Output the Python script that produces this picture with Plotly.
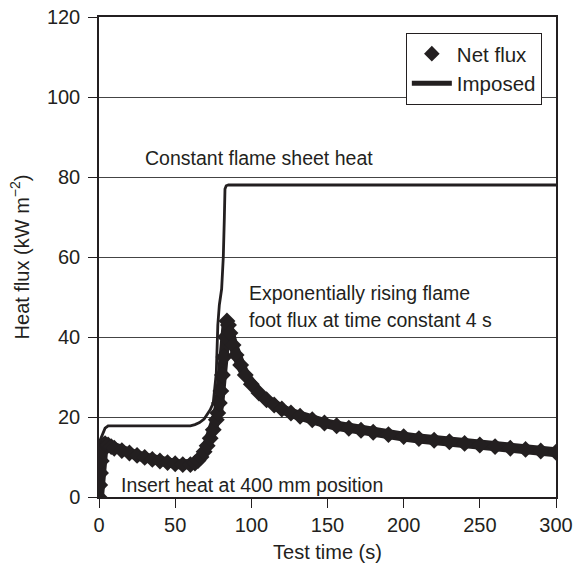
import plotly.graph_objects as go

# Net flux readings (time s, kW/m2)
net_t = [0, 0.5, 1, 1.5, 2, 3, 4, 6, 8, 10, 15, 20, 25, 30, 35, 40, 45, 50, 55, 60,
         63, 65, 67, 69, 71, 73, 75, 77, 78, 79, 80, 81, 82, 83, 84, 85, 86, 88, 90,
         93, 96, 100, 105, 110, 115, 120, 126, 132, 140, 148, 156, 164, 172, 180,
         190, 200, 210, 220, 230, 240, 250, 260, 270, 280, 290, 300]
net_q = [0, 3, 6, 9, 11.5, 13, 13.3, 13, 12.6, 12.2, 11.6, 11, 10.4, 9.9, 9.4, 9, 8.6,
         8.3, 8.1, 8.1, 8.5, 9.1, 10, 11.3, 12.8, 14.7, 16.8, 19.3, 21, 23.5, 26.5,
         30.5, 35, 40, 44, 43, 41, 38, 35.5, 33, 30.5, 28.2, 26, 24.3, 23, 22, 21,
         20.2, 19.3, 18.5, 17.8, 17.2, 16.7, 16.2, 15.6, 15.1, 14.6, 14.2, 13.8,
         13.4, 13, 12.6, 12.2, 11.9, 11.5, 11.2]

# Imposed heat flux readings
imp_t = [0, 2, 4, 6, 60, 63, 66, 69, 71, 73, 75, 76, 77, 78, 79, 80.5, 81.6, 82.3,
         82.7, 83.5, 85, 300]
imp_q = [13.5, 15.5, 17.2, 17.8, 17.8, 18.1, 18.6, 19.5, 20.5, 21.8, 23.5, 27, 31,
         43, 48, 52, 60, 70, 77, 77.8, 78, 78]

x_ticks = [0, 50, 100, 150, 200, 250, 300]
y_ticks = [0, 20, 40, 60, 80, 100, 120]

INK = "#231f20"
FONT = "Liberation Sans, Arial, sans-serif"

fig = go.Figure()
fig.add_trace(go.Scatter(x=net_t, y=net_q, mode="lines",
                         line=dict(color=INK, width=10), showlegend=False,
                         hoverinfo="skip"))
fig.add_trace(go.Scatter(x=net_t, y=net_q, mode="markers", name="Net flux",
                         marker=dict(symbol="diamond", size=13, color=INK),
                         legendgroup="a"))
fig.add_trace(go.Scatter(x=imp_t, y=imp_q, mode="lines", name="Imposed",
                         line=dict(color=INK, width=2.8), legendgroup="b"))

fig.update_layout(
    width=573, height=571,
    margin=dict(l=99, r=17, t=17, b=74),
    paper_bgcolor="white", plot_bgcolor="white",
    font=dict(family=FONT, size=19.5, color=INK),
    legend=dict(x=0.969, y=0.967, xanchor="right", yanchor="top",
                bgcolor="white", bordercolor=INK, borderwidth=1,
                font=dict(size=20.5), traceorder="grouped", tracegroupgap=0,
                itemsizing="constant", itemwidth=40),
    annotations=[
        dict(x=28.9, y=84.8, xref="x", yref="y", text="Constant flame sheet heat",
             showarrow=False, xanchor="left", yanchor="middle"),
        dict(x=97.2, y=51, xref="x", yref="y", text="Exponentially rising flame",
             showarrow=False, xanchor="left", yanchor="middle"),
        dict(x=97.2, y=44.3, xref="x", yref="y", text="foot flux at time constant 4 s",
             showarrow=False, xanchor="left", yanchor="middle"),
        dict(x=12.8, y=3.1, xref="x", yref="y", text="Insert heat at 400 mm position",
             showarrow=False, xanchor="left", yanchor="middle"),
    ],
)
fig.update_xaxes(range=[0, 300], tickvals=x_ticks, ticks="outside", ticklen=9,
                 tickcolor=INK, showline=True, linecolor=INK, linewidth=1.5,
                 mirror=True, showgrid=False, zeroline=False, automargin=False,
                 tickfont=dict(size=20), ticklabelstandoff=0,
                 title=dict(text="Test time (s)", standoff=10,
                            font=dict(size=20, family=FONT, color=INK)))
fig.update_yaxes(range=[0, 120], tickvals=y_ticks, ticks="outside", ticklen=9,
                 tickcolor=INK, showline=True, linecolor=INK, linewidth=1.5,
                 mirror=True, showgrid=True, gridcolor="#444444", gridwidth=1,
                 zeroline=False, automargin=False, tickfont=dict(size=20),
                 ticklabelstandoff=4,
                 title=dict(text="Heat flux (kW m<sup>−2</sup>)", standoff=12,
                            font=dict(size=20, family=FONT, color=INK)))

fig.write_html("out.html")
